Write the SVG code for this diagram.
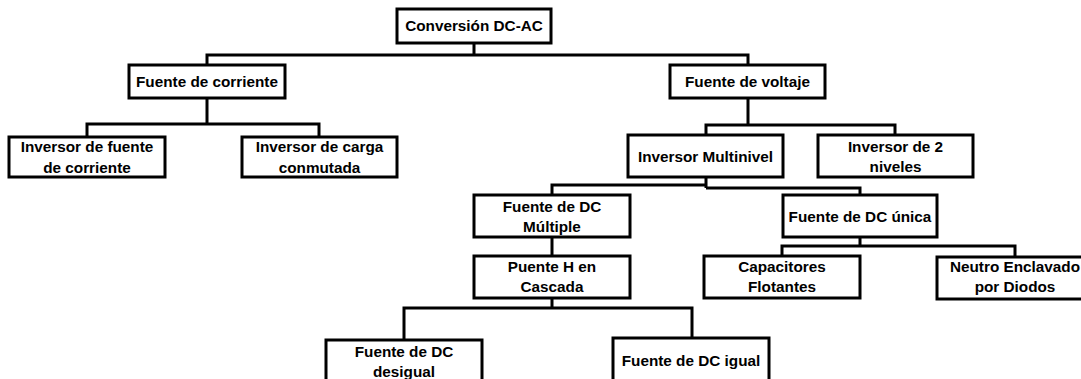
<svg xmlns="http://www.w3.org/2000/svg" width="1081" height="379" viewBox="0 0 1081 379">
<style>
.box{fill:#fff;stroke:#000;stroke-width:3}
.lbl{font-family:"Liberation Sans",Arial,sans-serif;font-weight:bold;font-size:15.3px;fill:#000;text-anchor:middle}
.con{fill:none;stroke:#000;stroke-width:3}
</style>
<rect width="1081" height="379" fill="#fff"/>
<g id="connectors" class="con">
<path d="M474,43 V55 M207,65 V55 H748 V65"/>
<path d="M207,98 V124 M87,137 V124 H319 V137"/>
<path d="M748,98 V125 M706,135 V125 H895 V135"/>
<path d="M706,177 V188 M552,195 V185 H706 M706,188 H860 V195"/>
<path d="M552,237 V256"/>
<path d="M552,298 V308 M404,340 V308 H692 V338"/>
<path d="M860,237 V246 M782,256 V246 H1015 V257"/>
</g>
<g id="n_root"><rect class="box" x="397" y="9" width="154" height="34"/><text class="lbl" x="474" y="31">Conversión DC-AC</text></g>
<g id="n_fc"><rect class="box" x="129" y="65" width="156" height="33"/><text class="lbl" x="207" y="87">Fuente de corriente</text></g>
<g id="n_fv"><rect class="box" x="670" y="65" width="155" height="33"/><text class="lbl" x="747.5" y="87">Fuente de voltaje</text></g>
<g id="n_ifc"><rect class="box" x="9" y="137" width="156" height="40"/><text class="lbl" x="87" y="152">Inversor de fuente</text><text class="lbl" x="87" y="173">de corriente</text></g>
<g id="n_icc"><rect class="box" x="242" y="137" width="155" height="40"/><text class="lbl" x="319.5" y="152">Inversor de carga</text><text class="lbl" x="319.5" y="173">conmutada</text></g>
<g id="n_im"><rect class="box" x="628" y="135" width="155" height="42"/><text class="lbl" x="705.5" y="162">Inversor Multinivel</text></g>
<g id="n_i2"><rect class="box" x="818" y="135" width="155" height="42"/><text class="lbl" x="895.5" y="152">Inversor de 2</text><text class="lbl" x="895.5" y="172">niveles</text></g>
<g id="n_dcm"><rect class="box" x="474" y="195" width="156" height="42"/><text class="lbl" x="552" y="212">Fuente de DC</text><text class="lbl" x="552" y="232">Múltiple</text></g>
<g id="n_dcu"><rect class="box" x="783" y="195" width="154" height="42"/><text class="lbl" x="860" y="222">Fuente de DC única</text></g>
<g id="n_ph"><rect class="box" x="474" y="256" width="156" height="42"/><text class="lbl" x="552" y="272">Puente H en</text><text class="lbl" x="552" y="292">Cascada</text></g>
<g id="n_cf"><rect class="box" x="704" y="256" width="156" height="42"/><text class="lbl" x="782" y="272">Capacitores</text><text class="lbl" x="782" y="292">Flotantes</text></g>
<g id="n_ne"><rect class="box" x="937" y="257" width="156" height="42"/><text class="lbl" x="1015" y="272">Neutro Enclavado</text><text class="lbl" x="1015" y="292">por Diodos</text></g>
<g id="n_dcd"><rect class="box" x="326" y="340" width="156" height="50"/><text class="lbl" x="404" y="357">Fuente de DC</text><text class="lbl" x="404" y="377">desigual</text></g>
<g id="n_dci"><rect class="box" x="613" y="338" width="156" height="50"/><text class="lbl" x="691" y="366">Fuente de DC igual</text></g>
</svg>
